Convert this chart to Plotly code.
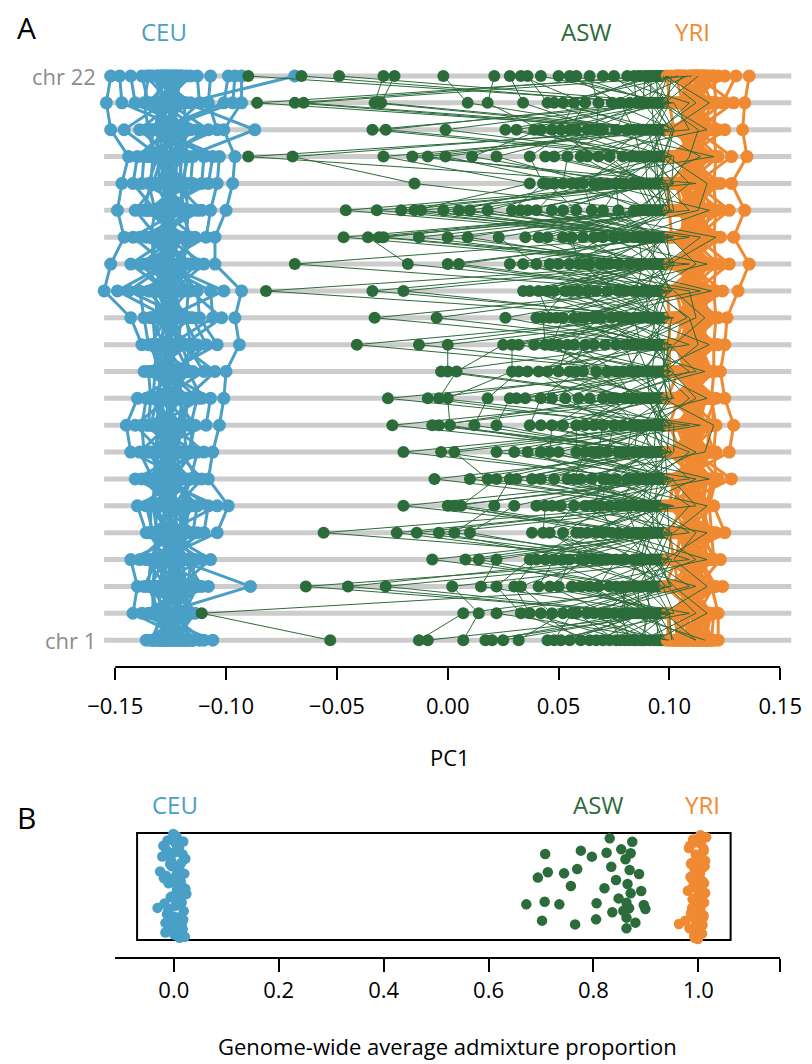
import plotly.graph_objects as go

# the page body has an 8 px margin, so the figure starts 8 px in
W, H = 804, 1056
OFF = 8

chromosomes = list(range(1, 23))

# PC1 x 1000, one list per chromosome (chr 1 first), one value per individual
ceu_pc1 = [
    [-128, -121, -136, -117, -125, -131, -106, -123, -119, -133, -127, -115, -122, -129, -112, -126, -120, -134, -118, -124, -130, -116, -110, -127, -130, -124, -118, -132, -121, -127, -115, -129, -123, -119, -133, -125],
    [-124, -131, -118, -142, -127, -121, -135, -114, -126, -129, -120, -138, -123, -116, -132, -125, -119, -128, -133, -122, -117, -130, -126, -120, -127, -121, -133, -118, -125, -130, -122, -128, -116, -134, -124, -129],
    [-131, -125, -118, -140, -123, -129, -108, -121, -134, -89, -127, -116, -124, -137, -120, -128, -113, -126, -132, -119, -122, -135, -111, -125, -128, -122, -133, -117, -126, -130, -120, -124, -131, -115, -127, -123],
    [-126, -133, -120, -143, -124, -117, -130, -107, -128, -122, -136, -114, -125, -131, -119, -127, -139, -121, -111, -129, -123, -134, -118, -126, -129, -121, -132, -116, -125, -128, -122, -134, -119, -127, -124, -130],
    [-122, -129, -136, -118, -125, -131, -104, -127, -120, -133, -115, -124, -128, -110, -121, -135, -126, -119, -130, -123, -113, -127, -132, -121, -126, -132, -119, -128, -123, -134, -117, -129, -122, -125, -131, -120],
    [-129, -122, -140, -117, -126, -133, -99, -124, -120, -136, -113, -128, -131, -108, -125, -119, -134, -122, -127, -116, -130, -104, -123, -128, -125, -131, -118, -128, -122, -134, -120, -127, -115, -132, -124, -129],
    [-125, -132, -119, -141, -127, -122, -108, -129, -135, -117, -124, -130, -113, -126, -138, -121, -128, -111, -133, -123, -120, -131, -116, -126, -128, -122, -134, -119, -126, -131, -116, -129, -124, -133, -121, -127],
    [-127, -121, -143, -118, -130, -125, -106, -132, -123, -137, -115, -128, -120, -134, -110, -126, -129, -122, -139, -117, -131, -124, -113, -127, -124, -130, -118, -127, -133, -121, -128, -116, -125, -131, -122, -135],
    [-123, -130, -145, -119, -127, -134, -103, -125, -121, -138, -116, -129, -132, -109, -124, -127, -141, -120, -126, -114, -131, -122, -135, -128, -126, -120, -133, -117, -129, -123, -131, -115, -128, -124, -136, -121],
    [-128, -122, -140, -117, -125, -131, -101, -127, -120, -136, -113, -124, -129, -107, -133, -121, -126, -118, -130, -123, -111, -128, -134, -125, -124, -130, -119, -127, -133, -116, -128, -122, -131, -125, -118, -129],
    [-124, -131, -118, -137, -127, -121, -100, -129, -134, -115, -126, -122, -110, -128, -132, -120, -125, -105, -130, -123, -117, -127, -135, -121, -128, -122, -133, -119, -126, -131, -116, -124, -129, -121, -134, -125],
    [-127, -120, -138, -116, -124, -132, -94, -126, -122, -135, -104, -129, -118, -125, -131, -113, -128, -121, -134, -109, -123, -127, -119, -130, -124, -130, -117, -128, -122, -133, -120, -126, -131, -115, -127, -123],
    [-122, -129, -143, -118, -126, -133, -96, -124, -120, -137, -112, -128, -131, -106, -125, -119, -134, -123, -127, -115, -130, -121, -102, -126, -127, -121, -134, -117, -125, -130, -123, -128, -116, -132, -124, -129],
    [-128, -121, -155, -117, -149, -125, -93, -130, -123, -139, -113, -127, -132, -107, -124, -144, -120, -128, -101, -134, -122, -126, -116, -131, -125, -131, -119, -127, -135, -122, -129, -117, -133, -124, -128, -121],
    [-125, -132, -152, -119, -127, -121, -105, -129, -135, -115, -124, -143, -118, -130, -110, -126, -122, -138, -128, -120, -133, -113, -127, -124, -128, -122, -134, -117, -126, -131, -120, -129, -124, -136, -119, -127],
    [-130, -123, -146, -118, -126, -134, -105, -128, -121, -139, -114, -125, -131, -109, -127, -120, -136, -124, -129, -117, -133, -122, -142, -126, -125, -131, -119, -128, -122, -134, -116, -127, -132, -121, -129, -124],
    [-124, -131, -149, -117, -128, -122, -100, -126, -135, -113, -129, -120, -141, -107, -125, -132, -119, -127, -123, -137, -111, -130, -121, -127, -129, -123, -134, -118, -126, -132, -120, -128, -125, -136, -116, -124],
    [-129, -122, -147, -119, -126, -133, -97, -124, -120, -138, -111, -128, -131, -104, -125, -142, -121, -127, -116, -134, -123, -108, -130, -126, -124, -130, -118, -128, -122, -135, -120, -127, -132, -115, -129, -125],
    [-126, -132, -144, -118, -124, -129, -96, -127, -121, -137, -110, -130, -123, -103, -128, -140, -120, -125, -115, -133, -122, -106, -131, -127, -128, -122, -135, -119, -126, -131, -117, -129, -124, -134, -121, -127],
    [-123, -130, -152, -87, -127, -121, -101, -128, -134, -116, -125, -146, -119, -131, -108, -126, -122, -139, -129, -113, -124, -135, -104, -127, -126, -132, -118, -128, -122, -136, -120, -130, -125, -133, -117, -129],
    [-127, -121, -154, -118, -130, -125, -93, -132, -123, -141, -112, -128, -147, -101, -126, -120, -135, -124, -97, -129, -122, -137, -108, -131, -124, -130, -119, -127, -133, -116, -128, -122, -135, -125, -131, -120],
    [-125, -131, -152, -69, -128, -122, -93, -129, -120, -143, -113, -126, -148, -99, -133, -124, -138, -121, -96, -130, -127, -135, -107, -123, -128, -122, -134, -118, -126, -131, -116, -129, -124, -136, -120, -127],
]

yri_pc1 = [
    [110, 104, 116, 99, 113, 107, 122, 111, 102, 118, 108, 114, 105, 120, 109, 101, 115, 112, 106, 119, 103, 117, 110, 113, 108, 114, 103, 117, 111, 106, 119, 112, 104, 116, 109, 113],
    [112, 106, 118, 100, 114, 109, 122, 104, 116, 110, 102, 120, 107, 113, 111, 99, 117, 105, 119, 108, 115, 103, 112, 110, 109, 115, 104, 118, 111, 106, 120, 113, 102, 116, 108, 114],
    [108, 115, 102, 124, 111, 106, 119, 113, 100, 117, 109, 104, 121, 112, 107, 116, 103, 114, 110, 118, 105, 112, 98, 115, 113, 107, 118, 103, 110, 116, 105, 120, 111, 108, 114, 102],
    [113, 107, 119, 101, 110, 116, 104, 123, 111, 108, 118, 102, 114, 106, 120, 109, 112, 99, 117, 105, 115, 111, 103, 114, 108, 114, 104, 118, 111, 106, 120, 112, 103, 116, 109, 113],
    [109, 116, 103, 121, 112, 106, 125, 110, 118, 104, 113, 100, 119, 108, 115, 111, 102, 117, 107, 114, 112, 120, 105, 110, 112, 106, 117, 102, 114, 109, 119, 104, 115, 108, 113, 111],
    [111, 105, 117, 100, 113, 108, 120, 103, 115, 110, 118, 106, 112, 101, 116, 109, 114, 98, 119, 107, 111, 104, 113, 110, 109, 114, 103, 117, 111, 106, 118, 112, 104, 115, 108, 113],
    [114, 108, 120, 102, 111, 117, 105, 128, 110, 113, 119, 100, 115, 107, 122, 112, 104, 118, 109, 116, 103, 113, 110, 106, 110, 116, 104, 119, 112, 107, 121, 113, 102, 117, 109, 114],
    [110, 116, 104, 121, 113, 107, 127, 111, 101, 118, 109, 114, 105, 120, 112, 99, 117, 108, 115, 103, 119, 111, 106, 114, 113, 107, 118, 103, 115, 109, 120, 105, 116, 111, 104, 112],
    [113, 106, 119, 101, 115, 110, 129, 104, 117, 109, 121, 112, 100, 116, 107, 114, 118, 103, 111, 120, 105, 115, 108, 112, 109, 115, 104, 119, 111, 106, 121, 113, 102, 117, 108, 114],
    [109, 115, 103, 120, 112, 106, 125, 111, 100, 118, 108, 114, 104, 121, 110, 116, 102, 113, 107, 119, 111, 99, 115, 110, 112, 106, 117, 103, 114, 109, 119, 105, 116, 110, 113, 107],
    [112, 106, 118, 101, 114, 109, 123, 105, 116, 110, 120, 103, 113, 108, 117, 100, 115, 111, 119, 107, 112, 104, 114, 110, 109, 115, 104, 118, 111, 106, 120, 112, 102, 116, 108, 113],
    [110, 117, 104, 122, 112, 107, 125, 113, 101, 119, 109, 115, 105, 121, 111, 100, 116, 108, 114, 103, 118, 112, 106, 113, 113, 107, 118, 103, 115, 109, 120, 105, 116, 111, 104, 112],
    [113, 107, 119, 102, 115, 110, 126, 105, 117, 111, 122, 104, 114, 108, 120, 100, 116, 112, 118, 106, 113, 103, 115, 109, 110, 116, 104, 119, 112, 107, 121, 113, 102, 117, 109, 114],
    [111, 116, 104, 121, 113, 107, 131, 110, 101, 119, 108, 115, 105, 124, 112, 99, 117, 109, 114, 103, 120, 111, 106, 113, 113, 107, 118, 103, 115, 109, 120, 105, 116, 111, 104, 112],
    [112, 106, 119, 102, 115, 109, 136, 104, 117, 111, 122, 100, 114, 108, 127, 113, 105, 118, 110, 120, 103, 116, 112, 109, 110, 116, 104, 119, 112, 107, 121, 113, 102, 117, 109, 114],
    [110, 116, 103, 121, 113, 107, 129, 111, 100, 119, 109, 115, 104, 123, 112, 101, 117, 108, 114, 106, 120, 111, 105, 113, 113, 107, 118, 103, 115, 109, 120, 105, 116, 111, 104, 112],
    [113, 107, 120, 101, 115, 110, 134, 104, 118, 112, 123, 103, 116, 108, 127, 100, 114, 111, 119, 106, 113, 105, 117, 110, 110, 116, 104, 119, 112, 107, 121, 113, 102, 117, 109, 114],
    [111, 117, 104, 121, 113, 107, 128, 110, 101, 119, 108, 115, 105, 123, 112, 99, 116, 109, 114, 103, 120, 111, 106, 113, 113, 107, 118, 103, 115, 109, 120, 105, 116, 111, 104, 112],
    [112, 106, 119, 101, 115, 109, 135, 104, 117, 111, 122, 100, 114, 108, 128, 113, 103, 118, 110, 120, 105, 116, 112, 108, 110, 116, 104, 119, 112, 107, 121, 113, 102, 117, 109, 114],
    [110, 116, 103, 122, 113, 107, 133, 111, 100, 119, 109, 115, 104, 125, 112, 102, 117, 108, 114, 106, 120, 111, 105, 113, 113, 107, 118, 103, 115, 109, 120, 105, 116, 111, 104, 112],
    [113, 107, 120, 101, 116, 110, 134, 104, 118, 112, 124, 103, 115, 108, 129, 100, 114, 111, 119, 106, 113, 105, 117, 109, 110, 116, 104, 119, 112, 107, 121, 113, 102, 117, 109, 114],
    [111, 117, 104, 122, 113, 107, 136, 110, 101, 119, 130, 115, 105, 125, 112, 99, 116, 109, 114, 103, 120, 111, 106, 113, 113, 107, 118, 103, 115, 109, 120, 105, 116, 111, 104, 112],
]

asw_pc1 = [
    [-53, 97, 84, -13, 112, 67, 7, 88, 93, 55, 100, 17, 76, 95, 64, -9, 116, 80, 87, 25, 99, 70, 45, 91, 102, 32, 73, 96, 51, 85, 112, 60, 20, 94, 78, 98, 48, 89, 101, 82],
    [-111, 92, 100, 7, 85, 96, 14, 112, 70, 88, 22, 99, 58, 94, 33, 102, 80, 37, 91, 97, 47, 86, 109, 63, 95, 52, 101, 75, 90, 66, 98, 42, 83, 117, 72, 93, 56, 89, 100, 78],
    [95, -64, 88, 101, -45, 73, 2, 99, 84, -28, 92, 15, 109, 60, 22, 97, 79, 30, 90, 117, 33, 86, 41, 100, 68, 94, 50, 98, 82, 112, 56, 91, 76, 102, 46, 87, 96, 64, 93, 81],
    [88, 100, -7, 94, 72, 8, 109, 85, 14, 97, 60, 22, 91, 117, 37, 80, 99, 40, 87, 102, 66, 93, 48, 96, 76, 101, 55, 89, 112, 69, 84, 98, 44, 92, 62, 100, 79, 95, 52, 86],
    [92, -56, 100, 84, -23, 96, 70, -14, 109, 88, -4, 99, 3, 77, 94, 10, 101, 58, 90, 112, 46, 86, 97, 63, 92, 38, 102, 81, 95, 52, 89, 117, 67, 98, 74, 93, 43, 100, 85, 60],
    [-20, 95, 88, 0, 101, 77, 3, 97, 90, 6, 112, 66, 21, 93, 99, 30, 85, 102, 40, 91, 57, 96, 82, 100, 47, 89, 117, 62, 94, 73, 98, 51, 87, 109, 69, 92, 44, 99, 80, 95],
    [97, -6, 90, 109, 10, 84, 99, 18, 93, 22, 101, 70, 28, 95, 31, 88, 112, 42, 92, 60, 100, 76, 96, 48, 89, 102, 65, 94, 54, 98, 81, 118, 38, 91, 72, 99, 86, 57, 94, 100],
    [90, 101, -20, 95, 84, -3, 98, 3, 109, 77, 22, 92, 99, 30, 87, 112, 42, 94, 65, 100, 50, 89, 97, 72, 102, 58, 93, 81, 116, 46, 96, 68, 91, 99, 36, 86, 101, 62, 94, 79],
    [-25, 93, 100, -7, 86, 97, -4, 109, 79, 1, 95, 12, 90, 101, 22, 88, 114, 42, 96, 66, 99, 52, 92, 75, 102, 58, 94, 83, 120, 47, 97, 70, 89, 100, 62, 93, 37, 98, 85, 91],
    [96, -27, 89, 102, -9, 94, 76, -4, 99, 0, 91, 18, 112, 85, 28, 97, 31, 100, 35, 88, 64, 95, 101, 53, 92, 80, 109, 47, 97, 70, 90, 117, 59, 94, 83, 99, 42, 93, 74, 100],
    [91, 100, -3, 95, 86, 0, 109, 4, 97, 29, 90, 32, 101, 36, 94, 79, 112, 45, 98, 67, 92, 55, 99, 84, 102, 50, 96, 72, 88, 116, 61, 93, 41, 100, 76, 97, 58, 89, 101, 82],
    [-41, 95, 88, -13, 101, 0, 92, 25, 98, 29, 85, 109, 32, 96, 39, 90, 100, 71, 113, 47, 94, 62, 99, 80, 91, 54, 102, 44, 97, 76, 89, 118, 66, 93, 57, 100, 83, 96, 50, 87],
    [93, -33, 99, 86, -5, 102, 26, 95, 40, 90, 112, 74, 97, 46, 92, 100, 62, 88, 109, 52, 96, 81, 101, 57, 94, 69, 116, 43, 91, 98, 66, 87, 100, 49, 95, 78, 108, 60, 92, 84],
    [97, 90, -82, 101, 85, -34, 94, -20, 99, 34, 109, 37, 88, 41, 96, 72, 100, 56, 92, 114, 63, 95, 48, 98, 80, 91, 102, 53, 89, 67, 119, 45, 94, 77, 99, 59, 93, 101, 84, 96],
    [-69, 94, 100, -18, 88, 97, 0, 109, 5, 91, 28, 99, 34, 86, 102, 40, 95, 73, 112, 50, 92, 64, 98, 82, 101, 55, 89, 96, 46, 117, 69, 93, 100, 59, 87, 97, 77, 94, 102, 62],
    [92, -47, 99, -36, 86, -31, 101, -29, 95, -13, 90, 0, 109, 9, 97, 23, 88, 35, 100, 70, 94, 52, 114, 61, 91, 80, 98, 45, 102, 66, 93, 75, 121, 56, 96, 84, 100, 41, 89, 97],
    [-46, 95, -32, 88, -21, 100, -15, 92, -12, 97, -2, 109, 5, 86, 10, 99, 18, 94, 29, 101, 33, 90, 36, 113, 40, 96, 65, 91, 52, 98, 77, 102, 58, 93, 84, 118, 47, 89, 100, 70],
    [96, 89, 102, -15, 93, 99, 37, 85, 112, 48, 91, 97, 56, 100, 80, 94, 66, 109, 43, 88, 98, 72, 92, 117, 52, 95, 61, 101, 83, 90, 76, 99, 45, 87, 102, 69, 94, 58, 97, 78],
    [98, -90, 91, -70, 101, 85, -29, 95, -16, 100, -9, 88, -1, 109, 11, 93, 22, 97, 37, 114, 44, 90, 68, 99, 54, 94, 79, 102, 60, 89, 96, 48, 120, 73, 92, 100, 63, 87, 97, 83],
    [94, 100, -34, 88, -28, 97, 109, -1, 91, 26, 99, 31, 86, 113, 42, 95, 70, 101, 55, 92, 81, 98, 47, 102, 63, 90, 96, 76, 117, 51, 93, 100, 67, 87, 97, 58, 94, 84, 102, 39],
    [-86, 93, 99, -69, 87, -65, 102, 95, -33, 90, -30, 100, 9, 96, 18, 112, 34, 91, 62, 98, 45, 88, 101, 74, 94, 52, 109, 82, 97, 57, 92, 118, 68, 99, 48, 89, 100, 78, 95, 85],
    [96, -90, 101, 90, -66, 110, -49, 94, -29, 99, -24, 87, -2, 106, 21, 97, 28, 92, 33, 113, 36, 89, 42, 100, 58, 95, 70, 108, 50, 91, 81, 98, 64, 86, 104, 75, 93, 55, 99, 84],
]

# panel B: genome-wide admixture proportion and vertical jitter
ceu_adm = [0.005, -0.012, 0.018, -0.020, 0.010, 0.002, -0.008, 0.022, -0.026, 0.014,
           -0.004, 0.008, -0.015, 0.020, 0.000, -0.010, 0.016, -0.031, 0.006, 0.024,
           -0.006, 0.012, -0.018, 0.003, 0.019, -0.013, 0.009, -0.002, 0.015, -0.009,
           0.011, 0.001, -0.016, 0.021, 0.004, -0.005, 0.013, 0.007, -0.011, 0.017,
           0.003, -0.014, 0.017, -0.007, 0.010, -0.019, 0.006, 0.022, -0.003, 0.013,
           -0.010, 0.000, 0.018, -0.016, 0.008, -0.001, 0.015, -0.022, 0.005, 0.011]
ceu_jit = [0.97, 0.93, 0.92, 0.88, 0.86, 0.82, 0.79, 0.76, 0.64, 0.72,
           0.69, 0.66, 0.60, 0.62, 0.57, 0.53, 0.50, 0.30, 0.47, 0.43,
           0.40, 0.37, 0.34, 0.32, 0.27, 0.24, 0.21, 0.18, 0.15, 0.12,
           0.09, 0.05, 0.07, 0.03, 0.90, 0.74, 0.55, 0.45, 0.26, 0.10,
           0.95, 0.84, 0.80, 0.71, 0.67, 0.58, 0.51, 0.48, 0.41, 0.38,
           0.29, 0.22, 0.19, 0.16, 0.13, 0.99, 0.35, 0.78, 0.61, 0.02]

asw_adm = [0.831, 0.874, 0.708, 0.776, 0.797, 0.825, 0.853, 0.871, 0.861, 0.713,
           0.694, 0.744, 0.769, 0.834, 0.869, 0.887, 0.757, 0.843, 0.865, 0.821,
           0.891, 0.871, 0.672, 0.707, 0.735, 0.806, 0.848, 0.863, 0.896, 0.899,
           0.868, 0.836, 0.702, 0.765, 0.805, 0.863, 0.880, 0.863, 0.857]
asw_jit = [0.950, 0.919, 0.804, 0.835, 0.779, 0.816, 0.847, 0.810, 0.754, 0.633,
           0.583, 0.623, 0.664, 0.685, 0.654, 0.617, 0.505, 0.561, 0.523, 0.483,
           0.458, 0.436, 0.333, 0.358, 0.333, 0.343, 0.389, 0.349, 0.327, 0.290,
           0.296, 0.259, 0.181, 0.146, 0.193, 0.209, 0.162, 0.109, 0.274]

yri_adm = [1.015, 0.990, 1.005, 0.982, 1.010, 0.995, 1.000, 0.987, 1.012, 0.993,
           1.003, 0.985, 1.008, 0.998, 0.991, 1.006, 0.963, 0.975, 1.002, 0.989,
           1.011, 0.996, 1.004, 0.986, 1.009, 0.994, 1.001, 0.992, 1.007, 0.997,
           0.984, 1.013, 0.999, 0.988, 1.005, 0.980, 1.010, 0.993, 1.003, 0.996,
           1.004, 0.992, 1.010, 0.998, 0.986, 1.007, 0.995, 1.002, 0.990, 1.013,
           0.997, 1.005, 0.988, 1.000, 0.994, 1.008, 0.983, 1.003, 0.999, 1.011]
yri_jit = [0.96, 0.94, 0.90, 0.86, 0.83, 0.80, 0.76, 0.72, 0.69, 0.66,
           0.62, 0.59, 0.55, 0.52, 0.49, 0.45, 0.15, 0.18, 0.42, 0.38,
           0.35, 0.31, 0.28, 0.25, 0.21, 0.12, 0.08, 0.04, 0.06, 0.10,
           0.88, 0.74, 0.64, 0.57, 0.33, 0.46, 0.23, 0.02, 0.92, 0.68,
           0.98, 0.91, 0.85, 0.78, 0.71, 0.67, 0.60, 0.54, 0.50, 0.44,
           0.40, 0.36, 0.30, 0.26, 0.19, 0.14, 0.11, 0.07, 0.01, 0.53]

pc1_ticks = [-0.15, -0.10, -0.05, 0.00, 0.05, 0.10, 0.15]
adm_ticks = [0.0, 0.2, 0.4, 0.6, 0.8, 1.0]

BLUE = "#4a9fc6"
GREEN = "#2c6b3a"
ORANGE = "#f08a32"
GREY = "#cccccc"
FONT = "Open Sans"


def px(x):
    return (x - OFF) / W


def py(y):
    return 1 - (y - OFF) / H


def paths(rows):
    # one polyline per individual, running chr 1 -> chr 22
    xs, ys = [], []
    for i in range(len(rows[0])):
        for c, row in zip(chromosomes, rows):
            xs.append(row[i] / 1000)
            ys.append(c)
        xs.append(None)
        ys.append(None)
    return xs, ys


fig = go.Figure()

ceu_x, ceu_y = paths(ceu_pc1)
yri_x, yri_y = paths(yri_pc1)
asw_x, asw_y = paths(asw_pc1)

fig.add_trace(go.Scatter(x=ceu_x, y=ceu_y, mode="lines+markers",
                         line=dict(color=BLUE, width=3), marker=dict(color=BLUE, size=13),
                         cliponaxis=False, hoverinfo="skip"))
# ASW points sit under the YRI cloud, their connecting lines on top of it
fig.add_trace(go.Scatter(x=asw_x, y=asw_y, mode="markers",
                         marker=dict(color=GREEN, size=12), cliponaxis=False, hoverinfo="skip"))
fig.add_trace(go.Scatter(x=yri_x, y=yri_y, mode="lines+markers",
                         line=dict(color=ORANGE, width=3), marker=dict(color=ORANGE, size=13),
                         cliponaxis=False, hoverinfo="skip"))
fig.add_trace(go.Scatter(x=asw_x, y=asw_y, mode="lines",
                         line=dict(color=GREEN, width=1), hoverinfo="skip"))

for xs, ys, col in [(ceu_adm, ceu_jit, BLUE), (asw_adm, asw_jit, GREEN), (yri_adm, yri_jit, ORANGE)]:
    fig.add_trace(go.Scatter(
        x=xs, y=ys, mode="markers", xaxis="x2", yaxis="y2",
        marker=dict(color=col, size=10.5), cliponaxis=False,
    ))

# grey chromosome guide lines
shapes = []
for c in chromosomes:
    shapes.append(dict(type="line", xref="x", yref="y", x0=-0.155, x1=0.155, y0=c, y1=c,
                       line=dict(color=GREY, width=5), layer="below"))
# panel A axis line only spans the tick range
shapes.append(dict(type="line", xref="x", yref="paper", x0=-0.15, x1=0.15,
                   y0=py(667), y1=py(667), line=dict(color="black", width=2)))
# panel B frame
shapes.append(dict(type="rect", xref="x2", yref="y2", x0=-0.070, x1=1.0615, y0=0, y1=1,
                   line=dict(color="black", width=2), layer="below"))

ann = []


def label(text, x, y, size, color="black", xanchor="center"):
    ann.append(dict(text=text, x=px(x), y=py(y), xref="paper", yref="paper",
                    xanchor=xanchor, yanchor="middle", showarrow=False,
                    font=dict(family=FONT, size=size, color=color)))


label("A", 9, 28, 30, xanchor="left")
label("CEU", 159.5, 32, 24, BLUE)
label("ASW", 585, 32, 24, GREEN)
label("YRI", 692, 32, 24, ORANGE)
label("PC1", 447, 757, 22)
label("B", 9, 817, 30, xanchor="left")
label("CEU", 170, 804, 24, BLUE)
label("ASW", 597, 804, 24, GREEN)
label("YRI", 702, 804, 24, ORANGE)
label("Genome-wide average admixture proportion", 445, 1046, 22)

for c, name in [(22, "chr 22"), (1, "chr 1")]:
    ann.append(dict(text=name, x=px(93), y=c, xref="paper", yref="y", xanchor="right",
                    yanchor="middle", showarrow=False,
                    font=dict(family=FONT, size=22, color="#8c8c8c")))

x_lo = (110 - 169) / 528.5
x_hi = (780 - 169) / 528.5

fig.update_layout(
    width=W, height=H,
    margin=dict(l=0, r=0, t=0, b=0),
    paper_bgcolor="white", plot_bgcolor="white",
    showlegend=False,
    font=dict(family=FONT, size=22, color="black"),
    shapes=shapes, annotations=ann,
    xaxis=dict(
        domain=[px(110 - 22.333), px(780 + 22.333)], range=[-0.16, 0.16],
        tickvals=pc1_ticks,
        ticktext=[("\u2212" if v < 0 else "") + f"{abs(v):.2f}" for v in pc1_ticks],
        ticks="outside", ticklen=12, tickwidth=2, tickcolor="black",
        ticklabelstandoff=8,
        showline=False, showgrid=False, zeroline=False, anchor="y",
        tickfont=dict(size=22),
    ),
    yaxis=dict(domain=[py(667), py(49.14)], range=[0, 23], visible=False),
    xaxis2=dict(
        domain=[px(110), px(780)], range=[x_lo, x_hi],
        tickvals=adm_ticks + [x_hi - 0.0005],
        ticktext=[f"{v:.1f}" for v in adm_ticks] + [""],
        ticks="outside", ticklen=13, tickwidth=2, tickcolor="black",
        showline=True, linewidth=2, linecolor="black",
        showgrid=False, zeroline=False, anchor="y2",
        tickfont=dict(size=22),
    ),
    yaxis2=dict(domain=[py(957), py(820)], range=[-0.1589, 1.1215], visible=False),
)

fig.write_html("out.html")
